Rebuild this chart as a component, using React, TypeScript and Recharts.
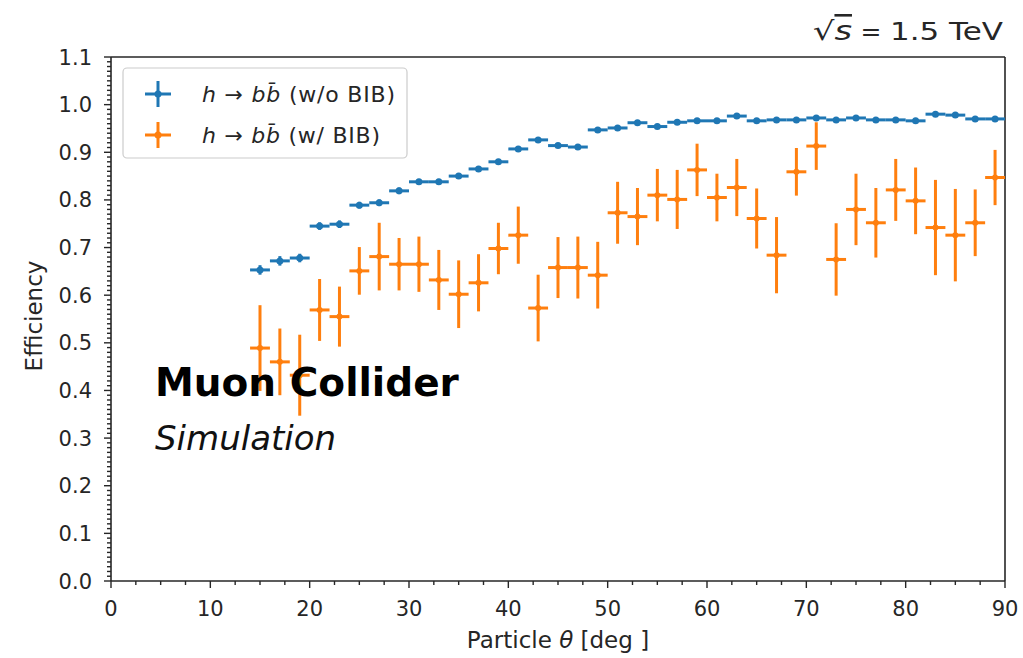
import React from 'react';
import { ScatterChart, Scatter, XAxis, YAxis, ErrorBar, ReferenceLine } from 'recharts';

// bin centres in theta [deg], bins are 2 deg wide
const thetaBins = [
  15, 17, 19, 21, 23, 25, 27, 29, 31, 33, 35, 37, 39, 41, 43, 45, 47, 49, 51,
  53, 55, 57, 59, 61, 63, 65, 67, 69, 71, 73, 75, 77, 79, 81, 83, 85, 87, 89,
];
const binHalfWidth = [
  1, 1, 1, 1, 1, 1, 1, 1, 1, 1, 1, 1, 1, 1, 1, 1, 1, 1, 1,
  1, 1, 1, 1, 1, 1, 1, 1, 1, 1, 1, 1, 1, 1, 1, 1, 1, 1, 1,
];

// h -> bb (w/o BIB)
const effNoBib = [
  0.653, 0.672, 0.678, 0.745, 0.749, 0.789, 0.794, 0.819, 0.838, 0.838, 0.85, 0.865, 0.88, 0.907,
  0.926, 0.914, 0.911, 0.947, 0.951, 0.962, 0.954, 0.963, 0.966, 0.966, 0.976, 0.966, 0.968, 0.968,
  0.972, 0.968, 0.972, 0.968, 0.968, 0.966, 0.98, 0.978, 0.97, 0.97,
];
const errNoBib = [
  0.01, 0.01, 0.009, 0.008, 0.008, 0.007, 0.007, 0.007, 0.006, 0.006, 0.006, 0.006, 0.005, 0.005,
  0.005, 0.005, 0.005, 0.004, 0.004, 0.004, 0.004, 0.004, 0.004, 0.004, 0.003, 0.004, 0.004, 0.004,
  0.004, 0.004, 0.004, 0.004, 0.004, 0.004, 0.003, 0.003, 0.004, 0.004,
];

// h -> bb (w/ BIB)
const effBib = [
  0.489, 0.46, 0.432, 0.569, 0.555, 0.651, 0.681, 0.665, 0.665, 0.632, 0.602, 0.626, 0.698, 0.726,
  0.573, 0.658, 0.658, 0.642, 0.773, 0.765, 0.81, 0.801, 0.863, 0.805, 0.826, 0.761, 0.684, 0.859,
  0.913, 0.675, 0.78, 0.752, 0.821, 0.798, 0.742, 0.726, 0.752, 0.847,
];
const errBib = [
  0.09, 0.07, 0.085, 0.065, 0.063, 0.05, 0.071, 0.055, 0.058, 0.063, 0.071, 0.06, 0.054, 0.06,
  0.07, 0.064, 0.065, 0.07, 0.065, 0.06, 0.055, 0.062, 0.055, 0.05, 0.06, 0.063, 0.08, 0.05,
  0.05, 0.076, 0.075, 0.073, 0.065, 0.07, 0.1, 0.097, 0.07, 0.058,
];

const xMajorTicks = [0, 10, 20, 30, 40, 50, 60, 70, 80, 90];
const yMajorTicks = [0, 0.1, 0.2, 0.3, 0.4, 0.5, 0.6, 0.7, 0.8, 0.9, 1.0, 1.1];

// minor tick positions (2.5 deg on x, 0.01 on y), majors are a subset
const xTicks = Array.from({ length: 37 }, (_, i) => i * 2.5);
const yTicks = Array.from({ length: 111 }, (_, i) => i / 100);

const BLUE = '#1f77b4';
const ORANGE = '#ff7f0e';
const AXIS = '#262626';
const FONT = '"DejaVu Sans", sans-serif';

const noBibData = thetaBins.map((t, i) => ({ x: t, y: effNoBib[i], xerr: binHalfWidth[i], yerr: errNoBib[i] }));
const bibData = thetaBins.map((t, i) => ({ x: t, y: effBib[i], xerr: binHalfWidth[i], yerr: errBib[i] }));

const W = 1023;
const H = 658;

const isMajor = (v: number, list: number[]) => list.some((m) => Math.abs(m - v) < 1e-6);

const XTick = ({ x, y, payload }: any) => {
  const major = isMajor(payload.value, xMajorTicks);
  return (
    <g>
      <line x1={x} x2={x} y1={y} y2={y + (major ? 7 : 4)} stroke={AXIS} strokeWidth={1.4} />
      {major && (
        <text x={x} y={y + 35} textAnchor="middle" fontFamily={FONT} fontSize={21} fill={AXIS}>
          {payload.value}
        </text>
      )}
    </g>
  );
};

const YTick = ({ x, y, payload }: any) => {
  const major = isMajor(payload.value, yMajorTicks);
  return (
    <g>
      <line x1={x - (major ? 7 : 4)} x2={x} y1={y} y2={y} stroke={AXIS} strokeWidth={1.4} />
      {major && (
        <text x={x - 19} y={y} dy="0.36em" textAnchor="end" fontFamily={FONT} fontSize={21} fill={AXIS}>
          {payload.value.toFixed(1)}
        </text>
      )}
    </g>
  );
};

const dot = (r: number, color: string) => (props: any) => (
  <circle cx={props.cx} cy={props.cy} r={r} fill={color} />
);

const LegendMarker = ({ x, y, color }: { x: number; y: number; color: string }) => (
  <g>
    <line x1={x - 13} x2={x + 13} y1={y} y2={y} stroke={color} strokeWidth={3} />
    <line x1={x} x2={x} y1={y - 13} y2={y + 13} stroke={color} strokeWidth={3} />
    <circle cx={x} cy={y} r={3.5} fill={color} />
  </g>
);

const App = () => {
  return (
    <div style={{ position: 'relative', width: W, height: H, background: '#fff' }}>
      <style>{'body{margin:0}'}</style>
      <ScatterChart width={W} height={H} margin={{ top: 57, right: 18, bottom: 0, left: 0 }}>
        <XAxis
          type="number"
          dataKey="x"
          domain={[0, 90]}
          ticks={xTicks}
          interval={0}
          height={77}
          tickSize={0}
          tickMargin={0}
          tickLine={false}
          tick={<XTick />}
          axisLine={{ stroke: AXIS, strokeWidth: 1.6 }}
          allowDataOverflow
        />
        <YAxis
          type="number"
          dataKey="y"
          domain={[0, 1.1]}
          ticks={yTicks}
          interval={0}
          width={111}
          tickSize={0}
          tickMargin={0}
          tickLine={false}
          tick={<YTick />}
          axisLine={{ stroke: AXIS, strokeWidth: 1.6 }}
          allowDataOverflow
        />
        <ReferenceLine y={1.1} stroke={AXIS} strokeWidth={1.6} />
        <ReferenceLine x={90} stroke={AXIS} strokeWidth={1.6} />
        <Scatter data={noBibData} fill={BLUE} shape={dot(3.5, BLUE)} isAnimationActive={false}>
          <ErrorBar dataKey="xerr" direction="x" width={0} stroke={BLUE} strokeWidth={3} />
          <ErrorBar dataKey="yerr" direction="y" width={0} stroke={BLUE} strokeWidth={3} />
        </Scatter>
        <Scatter data={bibData} fill={ORANGE} shape={dot(3, ORANGE)} isAnimationActive={false}>
          <ErrorBar dataKey="xerr" direction="x" width={0} stroke={ORANGE} strokeWidth={3} />
          <ErrorBar dataKey="yerr" direction="y" width={0} stroke={ORANGE} strokeWidth={3} />
        </Scatter>
      </ScatterChart>

      {/* annotations, legend and axis titles drawn on top like matplotlib texts */}
      <svg
        width={W}
        height={H}
        style={{ position: 'absolute', left: 0, top: 0, pointerEvents: 'none' }}
        fontFamily={FONT}
      >
        <text x={813} y={40} fontSize={26} fill={AXIS} textLength={39} lengthAdjust="spacingAndGlyphs">
          <tspan>√</tspan>
          <tspan fontStyle="italic" style={{ textDecoration: 'overline' }}>s</tspan>
        </text>
        <text x={871} y={40} textAnchor="middle" fontSize={25} fill={AXIS}>=</text>
        <text x={890} y={40} fontSize={25} fill={AXIS} textLength={113} lengthAdjust="spacingAndGlyphs">
          1.5 TeV
        </text>

        <rect x={123} y={68} width={284} height={90} rx={4} fill="#fff" fillOpacity={0.85} stroke="#ccc" strokeWidth={1.2} />
        <LegendMarker x={158} y={94} color={BLUE} />
        <LegendMarker x={158} y={135} color={ORANGE} />
        <text x={202} y={102} fontSize={22} fill={AXIS} textLength={193} lengthAdjust="spacing">
          <tspan fontStyle="italic">h</tspan>
          <tspan> → </tspan>
          <tspan fontStyle="italic">bb̄</tspan>
          <tspan> (w/o BIB)</tspan>
        </text>
        <text x={202} y={143} fontSize={22} fill={AXIS} textLength={178} lengthAdjust="spacing">
          <tspan fontStyle="italic">h</tspan>
          <tspan> → </tspan>
          <tspan fontStyle="italic">bb̄</tspan>
          <tspan> (w/ BIB)</tspan>
        </text>

        <text x={155} y={396} fontSize={39} fontWeight="bold" fill="#000">
          Muon Collider
        </text>
        <text x={155} y={450} fontSize={34} fontStyle="italic" fill="#111">
          Simulation
        </text>

        <text x={0} y={0} transform="translate(42,316) rotate(-90)" textAnchor="middle" fontSize={23} fill={AXIS}>
          Efficiency
        </text>
        <text x={558} y={648} textAnchor="middle" fontSize={23} fill={AXIS}>
          Particle <tspan fontStyle="italic">θ</tspan> [deg ]
        </text>
      </svg>
    </div>
  );
};

export default App;
